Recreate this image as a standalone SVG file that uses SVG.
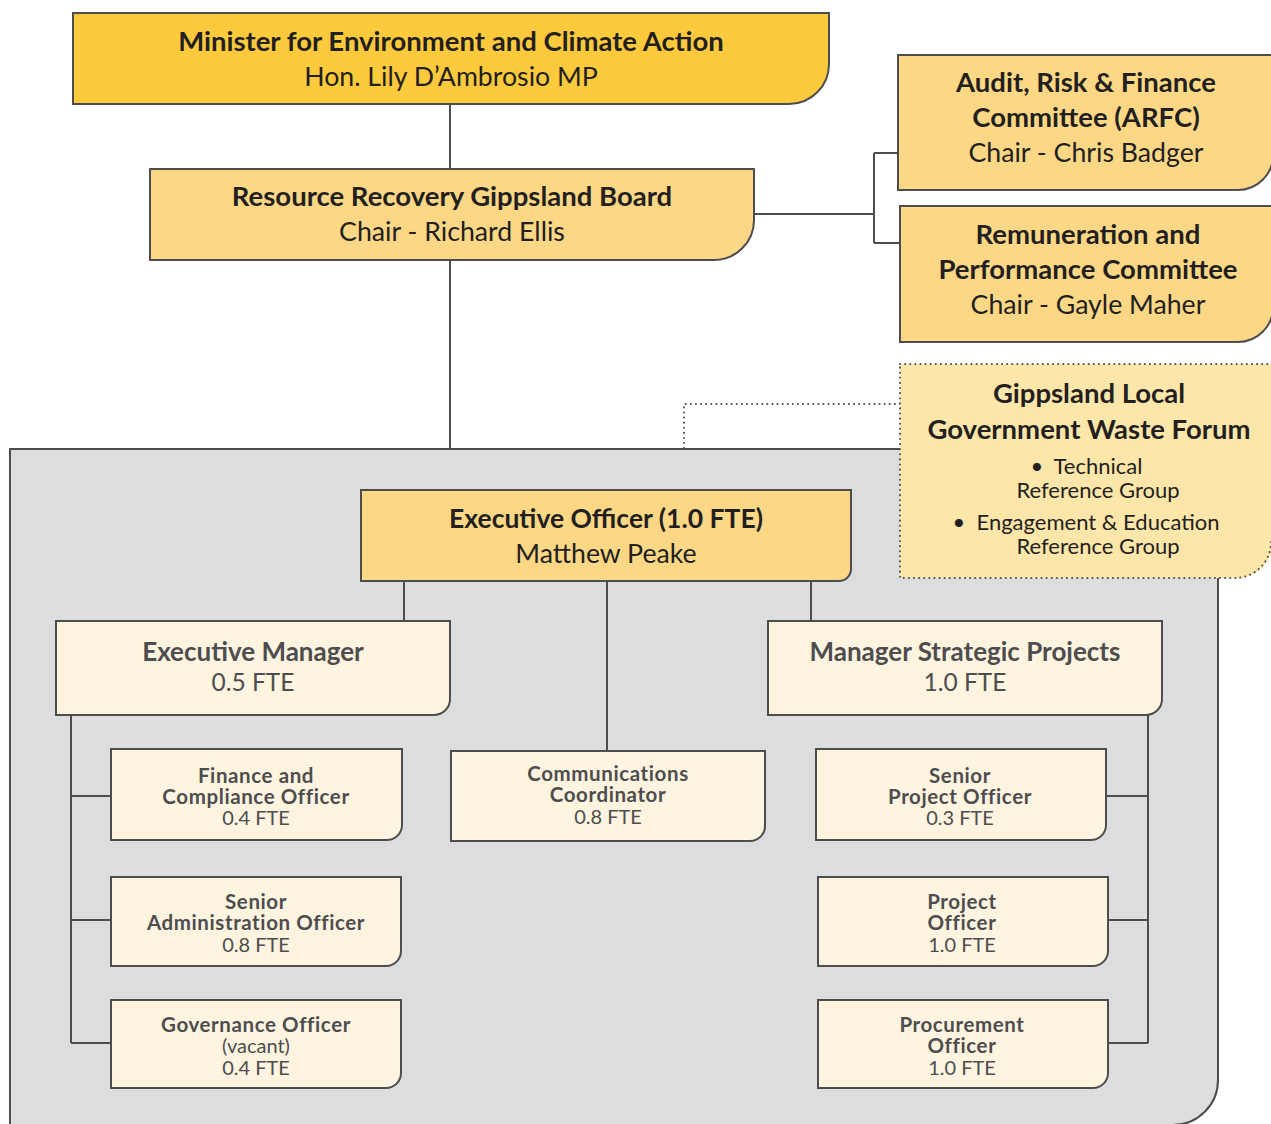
<svg xmlns="http://www.w3.org/2000/svg" width="1271" height="1124" viewBox="0 0 1271 1124">
<style>
.ln{fill:none;stroke:#4d4d4f;stroke-width:2}
.dot{fill:none;stroke:#4d4d4f;stroke-width:2;stroke-dasharray:0.1 5;stroke-linecap:round}
.box{stroke:#4d4d4f;stroke-width:2}
.gold{fill:#fdca3d}
.lg{fill:#fcd886}
.fr{fill:#fde6a9}
.cr{fill:#fef4e0}
.t{font-family:Lato,"Open Sans","Liberation Sans",sans-serif;text-anchor:middle;fill:#231f20}
.hb{font-size:27.5px;font-weight:bold}
.hr{font-size:26.7px}
.eo{font-size:26.5px;font-weight:bold}
.mb{font-size:26px;font-weight:bold}
.mr{font-size:24.5px}
.mid{font-size:22px}
.sb{font-size:20.5px;font-weight:bold;letter-spacing:0.6px}
.sr{font-size:20px}
.g{fill:#4d4d4f}
</style>
<rect x="0" y="0" width="1271" height="1124" fill="#ffffff"/>
<g id="panel">
<path d="M10 449 H1218 V1080 A45 45 0 0 1 1173 1125 H10 Z" fill="#dcdddf" stroke="#4d4d4f" stroke-width="2"/>
</g>
<g id="connectors">
<path class="ln" d="M450 104 V169"/>
<path class="ln" d="M450 260 V449"/>
<path class="ln" d="M754 214 H874 M874 153 V243 M874 153 H898 M874 243 H900"/>
<path class="dot" d="M900 404 H684 V449"/>
<path class="ln" d="M404 581 V621 M607 581 V751 M811 581 V621"/>
<path class="ln" d="M71 715 V1043 M71 796 H111 M71 920 H111 M71 1043 H111"/>
<path class="ln" d="M1148 715 V1043 M1106 796 H1148 M1108 920 H1148 M1108 1043 H1148"/>
</g>
<g id="minister">
<path class="box gold" d="M73 13 H829 V64 A40 40 0 0 1 789 104 H73 Z"/>
<text class="t hb" x="451" y="51">Minister for Environment and Climate Action</text>
<text class="t hr" x="451" y="86">Hon. Lily D’Ambrosio MP</text>
</g>
<g id="board">
<path class="box lg" d="M150 169 H754 V220 A40 40 0 0 1 714 260 H150 Z"/>
<text class="t hb" x="452" y="206">Resource Recovery Gippsland Board</text>
<text class="t hr" x="452" y="241">Chair - Richard Ellis</text>
</g>
<g id="arfc">
<path class="box lg" d="M898 55 H1273 V155 A35 35 0 0 1 1238 190 H898 Z"/>
<text class="t hb" x="1086" y="92">Audit, Risk &amp; Finance</text>
<text class="t hb" x="1086" y="127">Committee (ARFC)</text>
<text class="t hr" x="1086" y="162">Chair - Chris Badger</text>
</g>
<g id="remuneration">
<path class="box lg" d="M900 206 H1273 V307 A35 35 0 0 1 1238 342 H900 Z"/>
<text class="t hb" x="1088" y="244">Remuneration and</text>
<text class="t hb" x="1088" y="279">Performance Committee</text>
<text class="t hr" x="1088" y="314">Chair - Gayle Maher</text>
</g>
<g id="forum">
<path class="fr" d="M900 364 H1273 V542 A36 36 0 0 1 1237 578 H900 Z"/>
<path class="dot" d="M900 364 H1271 M1271 542 A36 36 0 0 1 1235 578 H900 V364"/>
<text class="t hb" x="1089" y="403">Gippsland Local</text>
<text class="t hb" x="1089" y="439">Government Waste Forum</text>
<text class="t mid" x="1037" y="474">•</text>
<text class="t mid" x="1098" y="474">Technical</text>
<text class="t mid" x="1098" y="498">Reference Group</text>
<text class="t mid" x="959" y="530">•</text>
<text class="t mid" x="1098" y="530">Engagement &amp; Education</text>
<text class="t mid" x="1098" y="554">Reference Group</text>
</g>
<g id="exec-officer">
<path class="box lg" d="M361 490 H851 V569 A12 12 0 0 1 839 581 H361 Z"/>
<text class="t eo" x="606" y="528">Executive Officer (1.0 FTE)</text>
<text class="t hr" x="606" y="563">Matthew Peake</text>
</g>
<g id="exec-manager">
<path class="box cr" d="M56 621 H450 V699 A16 16 0 0 1 434 715 H56 Z"/>
<text class="t mb g" x="253" y="661">Executive Manager</text>
<text class="t mr g" x="253" y="691">0.5 FTE</text>
</g>
<g id="manager-strategic">
<path class="box cr" d="M768 621 H1162 V699 A16 16 0 0 1 1146 715 H768 Z"/>
<text class="t mb g" x="965" y="661">Manager Strategic Projects</text>
<text class="t mr g" x="965" y="691">1.0 FTE</text>
</g>
<g id="finance">
<path class="box cr" d="M111 749 H402 V825 A15 15 0 0 1 387 840 H111 Z"/>
<text class="t sb g" x="256" y="783">Finance and</text>
<text class="t sb g" x="256" y="804">Compliance Officer</text>
<text class="t sr g" x="256" y="825">0.4 FTE</text>
</g>
<g id="senior-admin">
<path class="box cr" d="M111 877 H401 V951 A15 15 0 0 1 386 966 H111 Z"/>
<text class="t sb g" x="256" y="909">Senior</text>
<text class="t sb g" x="256" y="930">Administration Officer</text>
<text class="t sr g" x="256" y="952">0.8 FTE</text>
</g>
<g id="governance">
<path class="box cr" d="M111 1000 H401 V1073 A15 15 0 0 1 386 1088 H111 Z"/>
<text class="t sb g" x="256" y="1032">Governance Officer</text>
<text class="t sr g" x="256" y="1053">(vacant)</text>
<text class="t sr g" x="256" y="1075">0.4 FTE</text>
</g>
<g id="communications">
<path class="box cr" d="M451 751 H765 V826 A15 15 0 0 1 750 841 H451 Z"/>
<text class="t sb g" x="608" y="781">Communications</text>
<text class="t sb g" x="608" y="802">Coordinator</text>
<text class="t sr g" x="608" y="824">0.8 FTE</text>
</g>
<g id="senior-project">
<path class="box cr" d="M816 749 H1106 V825 A15 15 0 0 1 1091 840 H816 Z"/>
<text class="t sb g" x="960" y="783">Senior</text>
<text class="t sb g" x="960" y="804">Project Officer</text>
<text class="t sr g" x="960" y="825">0.3 FTE</text>
</g>
<g id="project-officer">
<path class="box cr" d="M818 877 H1108 V951 A15 15 0 0 1 1093 966 H818 Z"/>
<text class="t sb g" x="962" y="909">Project</text>
<text class="t sb g" x="962" y="930">Officer</text>
<text class="t sr g" x="962" y="952">1.0 FTE</text>
</g>
<g id="procurement">
<path class="box cr" d="M818 1000 H1108 V1073 A15 15 0 0 1 1093 1088 H818 Z"/>
<text class="t sb g" x="962" y="1032">Procurement</text>
<text class="t sb g" x="962" y="1053">Officer</text>
<text class="t sr g" x="962" y="1075">1.0 FTE</text>
</g>
</svg>
